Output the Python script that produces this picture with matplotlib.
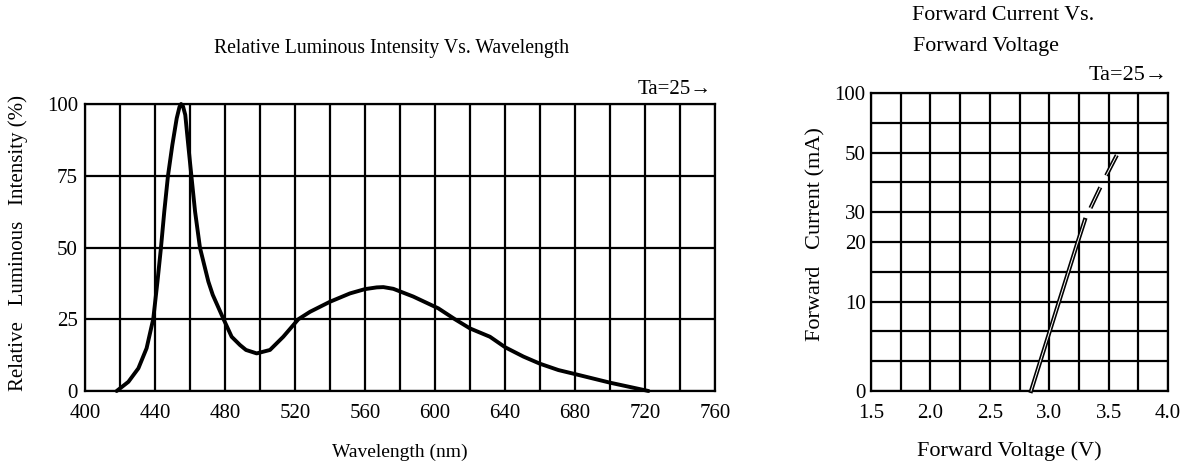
import numpy as np
import matplotlib
matplotlib.use("Agg")
import matplotlib.pyplot as plt

# ---------------- data ----------------
wavelength_nm = [418.1, 424.8, 430.5, 435.2, 439.0, 441.4, 443.4, 445.3, 447.4, 449.9,
                 452.4, 454.0, 454.9, 456.0, 457.3, 459.0, 460.8, 462.9, 465.7, 470.5,
                 473.0, 479.2, 483.8, 488.6, 492.0, 498.1, 505.7, 513.3, 521.9, 528.6,
                 540.0, 551.4, 560.0, 566.7, 570.5, 576.2, 587.6, 601.9, 611.4, 620.0,
                 631.4, 640.2, 650.5, 660.0, 670.5, 680.0, 700.0, 715.2, 722.0]
rel_intensity = [0.0, 3.2, 7.9, 14.9, 25.1, 38.1, 49.9, 62.5, 74.9, 85.7,
                 95.0, 99.0, 100.0, 99.2, 96.2, 85.7, 74.9, 62.5, 49.9, 38.1,
                 33.5, 25.0, 18.9, 16.0, 14.3, 13.1, 14.3, 18.9, 25.0, 27.6,
                 31.1, 34.0, 35.5, 36.1, 36.2, 35.6, 32.9, 28.8, 25.0, 21.8,
                 18.9, 15.2, 12.0, 9.5, 7.3, 5.9, 2.9, 0.9, 0.0]

wl_ticks = [400, 440, 480, 520, 560, 600, 640, 680, 720, 760]
ri_ticks = [0, 25, 50, 75, 100]

vf_solid = [2.847, 3.0, 3.24, 3.30]
if_solid = [0, 6.5, 20, 27.4]
vf_dash = [3.30, 3.45, 3.58]
if_dash = [27.4, 40, 50]

vf_ticks = [1.5, 2.0, 2.5, 3.0, 3.5, 4.0]
if_ticks = [0, 10, 20, 30, 50, 100]
if_grid = [0, 3.33, 6.67, 10, 15, 20, 30, 40, 50, 75, 100]

# ---------------- style ----------------
plt.rcParams['font.family'] = ['Liberation Serif', 'DejaVu Serif']
plt.rcParams['lines.scale_dashes'] = False
W, H = 1192, 469
fig = plt.figure(figsize=(W / 100, H / 100), dpi=100)

def fx(px):
    return px / W

def fy(py):
    return 1 - py / H

GLW = 1.6

# ---------------- left panel ----------------
ax1 = fig.add_axes([fx(85), fy(391), fx(715) - fx(85), fy(104) - fy(391)])
ax1.set_xlim(400, 760)
ax1.set_ylim(0, 100)
ax1.set_xticks(wl_ticks)
ax1.set_yticks(ri_ticks)
ax1.set_xticks(np.arange(400, 761, 20), minor=True)
ax1.grid(True, which='both', axis='x', color='black', lw=GLW)
ax1.grid(True, which='major', axis='y', color='black', lw=GLW)
ax1.tick_params(which='both', length=0, labelsize=15)
ax1.tick_params(axis='x', pad=9)
ax1.tick_params(axis='y', pad=5)
for s in ax1.spines.values():
    s.set_linewidth(GLW)
ax1.plot(wavelength_nm, rel_intensity, color='black', lw=2.8, zorder=5,
         solid_capstyle='round', solid_joinstyle='round', clip_on=False)

fig.text(fx(392), fy(48), "Relative Luminous Intensity Vs. Wavelength",
         ha='center', va='center', fontsize=14.2)
fig.text(fx(712), fy(89), "Ta=25\u2192", ha='right', va='center', fontsize=15)
fig.text(fx(400), fy(452), "Wavelength (nm)", ha='center', va='center', fontsize=14)
fig.text(fx(18), fy(243), "Relative   Luminous   Intensity (%)", ha='center',
         va='center', rotation=90, fontsize=15)

# ---------------- right panel ----------------
rows = np.arange(len(if_grid), dtype=float)
grid_arr = np.array(if_grid)

def fwd(v):
    return np.interp(v, grid_arr, rows)

def inv(r):
    return np.interp(r, rows, grid_arr)

ax2 = fig.add_axes([fx(871), fy(391), fx(1168) - fx(871), fy(93) - fy(391)])
ax2.set_yscale('function', functions=(fwd, inv))
ax2.set_xlim(1.5, 4.0)
ax2.set_ylim(0, 100)
ax2.set_xticks(vf_ticks)
ax2.set_xticks(np.arange(1.5, 4.01, 0.25), minor=True)
ax2.set_yticks(if_ticks)
ax2.set_yticklabels([str(t) for t in if_ticks])
ax2.set_yticks(if_grid, minor=True)
ax2.yaxis.set_minor_formatter(matplotlib.ticker.NullFormatter())
ax2.grid(True, which='both', color='black', lw=GLW)
ax2.tick_params(which='both', length=0, labelsize=15)
ax2.tick_params(axis='x', pad=9)
ax2.tick_params(axis='y', pad=4)
for s in ax2.spines.values():
    s.set_linewidth(GLW)

dash = (16.5, (16.5, 9.5))
ax2.plot(vf_solid, if_solid, color='black', lw=3.0, zorder=5, clip_on=False)
ax2.plot(vf_solid, if_solid, color='white', lw=0.7, zorder=6, clip_on=False)
ax2.plot(vf_dash, if_dash, color='black', lw=3.0, zorder=5, ls=dash)
ax2.plot(vf_dash, if_dash, color='white', lw=0.7, zorder=6, ls=dash)

fig.text(fx(912), fy(15), "Forward Current Vs.", ha='left', va='center', fontsize=15.8)
fig.text(fx(913), fy(47), "Forward Voltage", ha='left', va='center', fontsize=15.8)
fig.text(fx(1168), fy(75), "Ta=25\u2192", ha='right', va='center', fontsize=16)
fig.text(fx(1009), fy(451), "Forward Voltage (V)", ha='center', va='center', fontsize=16)
fig.text(fx(816), fy(234), "Forward   Current (mA)", ha='center', va='center',
         rotation=90, fontsize=16)

fig.savefig("out.png", dpi=100)
